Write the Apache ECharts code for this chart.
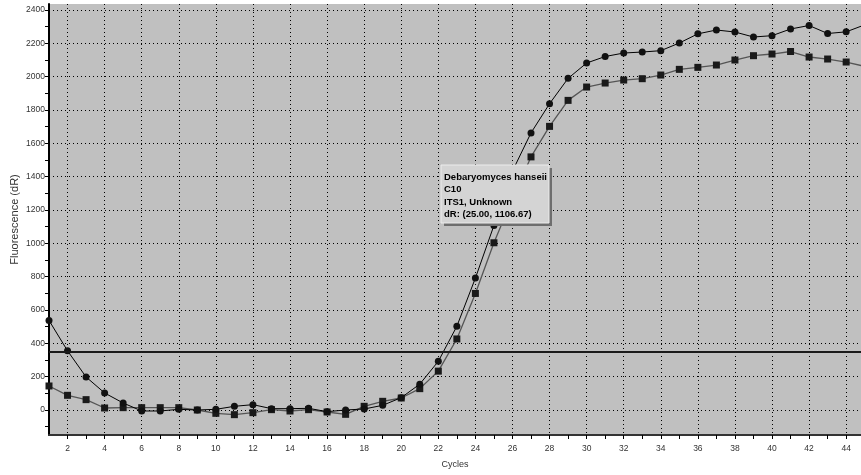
<!DOCTYPE html>
<html>
<head>
<meta charset="utf-8">
<script src="https://cdn.jsdelivr.net/npm/echarts@6.0.0/dist/echarts.min.js"></script>
<style>
  html, body { margin: 0; padding: 0; background: #fff; }
  #main { width: 861px; height: 475px; }
</style>
</head>
<body>
<div id="main"></div>
<script>
const cycles = [1, 2, 3, 4, 5, 6, 7, 8, 9, 10, 11, 12, 13, 14, 15, 16, 17, 18, 19, 20, 21, 22, 23,
  24, 25, 26, 27, 28, 29, 30, 31, 32, 33, 34, 35, 36, 37, 38, 39, 40, 41, 42, 43, 44, 45];
const circleWell = [537, 355, 198, 102, 42, -6, -6, 4, 0, 4, 22, 32, 8, 8, 10, -10, 0, 6, 28, 74,
  155, 292, 502, 791, 1106.67, 1433, 1662, 1837, 1989, 2081, 2120, 2141, 2147, 2155, 2201, 2256,
  2279, 2267, 2237, 2245, 2285, 2306, 2258, 2268, 2310];
const squareWell = [144, 88, 62, 12, 14, 14, 14, 14, 0, -20, -28, -16, 2, -6, 2, -12, -26, 22, 52,
  72, 128, 233, 426, 699, 1003, 1270, 1518, 1701, 1857, 1937, 1961, 1979, 1987, 2009, 2043, 2055,
  2069, 2099, 2125, 2135, 2150, 2117, 2105, 2087, 2061];
const threshold = 350;
const xTicks = [2, 3, 4, 5, 6, 7, 8, 9, 10, 11, 12, 13, 14, 15, 16, 17, 18, 19, 20, 21, 22, 23, 24,
  25, 26, 27, 28, 29, 30, 31, 32, 33, 34, 35, 36, 37, 38, 39, 40, 41, 42, 43, 44];
const xLabels = [2, 4, 6, 8, 10, 12, 14, 16, 18, 20, 22, 24, 26, 28, 30, 32, 34, 36, 38, 40, 42, 44];
const yTicks = [-100, 0, 100, 200, 300, 400, 500, 600, 700, 800, 900, 1000, 1100, 1200, 1300,
  1400, 1500, 1600, 1700, 1800, 1900, 2000, 2100, 2200, 2300, 2400];
const yLabels = [0, 200, 400, 600, 800, 1000, 1200, 1400, 1600, 1800, 2000, 2200, 2400];
const tipPoint = [25, 1106.67];
const tipLines = ['Debaryomyces hanseii', 'C10', 'ITS1, Unknown', 'dR: (25.00, 1106.67)'];

const font = 'Liberation Sans, Arial, sans-serif';
const dotted = { color: '#000', width: 1, type: [1, 3] };
const xMin = 1, xMax = 44.8, yMin = -150, yMax = 2435;

const pairs = (vals) => cycles.map((c, i) => [c, vals[i]]);

const option = {
  animation: false,
  grid: {
    left: 49, right: 0, top: 4, bottom: 40,
    show: true, backgroundColor: '#c0c0c0', borderWidth: 0,
    outerBoundsMode: 'none'
  },
  xAxis: [
    {
      type: 'value', min: xMin, max: xMax,
      name: 'Cycles', nameLocation: 'middle', nameGap: 25,
      nameTextStyle: { fontFamily: font, fontSize: 9, color: '#333' },
      axisLine: { onZero: false, lineStyle: { color: '#333', width: 2 } },
      axisTick: { show: true, length: 4, customValues: xTicks, lineStyle: { color: '#000' } },
      axisLabel: { customValues: xLabels, margin: 9, fontFamily: font, fontSize: 8.5, color: '#333',
        formatter: (v) => String(v) },
      splitLine: { show: false }
    },
    {
      type: 'value', min: xMin, max: xMax, position: 'bottom',
      axisLine: { show: false, onZero: false },
      axisTick: { show: false, customValues: xLabels },
      axisLabel: { show: false },
      splitLine: { show: true, lineStyle: dotted }
    }
  ],
  yAxis: [
    {
      type: 'value', min: yMin, max: yMax,
      name: 'Fluorescence (dR)', nameLocation: 'middle', nameGap: 29, nameMoveOverlap: false,
      nameTextStyle: { fontFamily: font, fontSize: 11, color: '#333' },
      axisLine: { show: true, onZero: false, lineStyle: { color: '#000', width: 2 } },
      axisTick: { show: true, length: 4, customValues: yTicks, lineStyle: { color: '#000' } },
      axisLabel: { customValues: yLabels, margin: 4, fontFamily: font, fontSize: 8.5, color: '#333',
        formatter: (v) => String(v) },
      splitLine: { show: false }
    },
    {
      type: 'value', min: yMin, max: yMax, position: 'left',
      axisLine: { show: false, onZero: false },
      axisTick: { show: false, customValues: yLabels },
      axisLabel: { show: false },
      splitLine: { show: true, lineStyle: dotted }
    }
  ],
  series: [
    {
      name: 'circle', type: 'line', data: pairs(circleWell),
      symbol: 'circle', symbolSize: 7,
      itemStyle: { color: '#111' },
      lineStyle: { color: '#000', width: 1 },
      z: 4,
      markLine: {
        silent: true, symbol: 'none', label: { show: false },
        lineStyle: { color: '#1a1a1a', width: 2, type: 'solid' },
        data: [{ yAxis: threshold }]
      }
    },
    {
      name: 'square', type: 'line', data: pairs(squareWell),
      symbol: 'rect', symbolSize: 7,
      itemStyle: { color: '#1a1a1a' },
      lineStyle: { color: '#555', width: 1.3 },
      z: 3
    }
  ]
};

const chart = echarts.init(document.getElementById('main'), null, { renderer: 'canvas' });
chart.setOption(option);

// static hover box, placed just above the point it describes
const p = chart.convertToPixel({ gridIndex: 0 }, tipPoint);
const boxW = 108, boxH = 58;
const bx = Math.round(p[0] - 53), by = Math.round(p[1] - boxH - 2);
chart.setOption({
  graphic: [
    { type: 'rect', z: 100, shape: { x: bx + 3, y: by + 3, width: boxW, height: boxH },
      style: { fill: '#6e6e6e' } },
    { type: 'rect', z: 101, shape: { x: bx, y: by, width: boxW, height: boxH },
      style: { fill: '#d4d4d4', stroke: '#ececec', lineWidth: 1 } },
    { type: 'text', z: 102, x: bx + 3, y: by + 6,
      style: { text: tipLines.join('\n'), font: 'bold 9.5px ' + font, fill: '#000', lineHeight: 12.5 } }
  ]
});
</script>
</body>
</html>
